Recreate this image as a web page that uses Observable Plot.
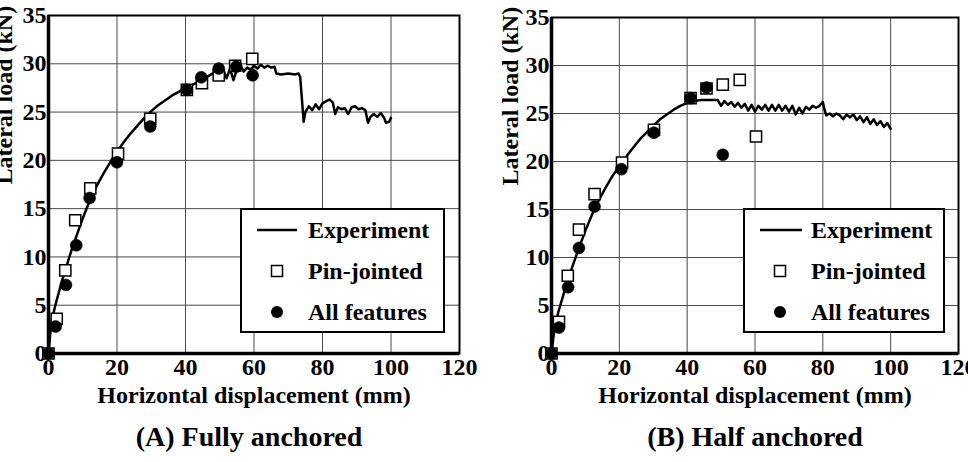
<!DOCTYPE html>
<html>
<head>
<meta charset="utf-8">
<script src="https://cdn.jsdelivr.net/npm/d3@7"></script>
<script src="https://cdn.jsdelivr.net/npm/@observablehq/plot@0.6"></script>
<style>
  html, body { margin: 0; padding: 0; background: white; width: 968px; height: 462px; overflow: hidden; position: relative; }
  .panel { position: absolute; top: 0; }
  .legend { position: absolute; top: 208px; height: 121px; border: 2px solid black; background: white;
            font-family: "Liberation Serif", "Times New Roman", serif; font-weight: bold; font-size: 24px; color: black; }
  .legend .row { position: absolute; left: 0; right: 0; height: 30px; }
  .legend .lab { position: absolute; left: 66px; top: 0; line-height: 30px; white-space: nowrap; }
  .legend .sym { position: absolute; top: 0; }
</style>
</head>
<body>
<script>
// ---------- data ----------
const xTicks = [0, 20, 40, 60, 80, 100, 120];
const yTicks = [0, 5, 10, 15, 20, 25, 30, 35];
const xTitle = "Horizontal displacement (mm)";
const yTitle = "Lateral load (kN)";
const seriesNames = ["Experiment", "Pin-jointed", "All features"];
const captions = ["(A) Fully anchored", "(B) Half anchored"];

// (A) Fully anchored
const expA_x = [0,0.5,1,2,3,4,5,6,7,8,10,12,14,16,18,20,22,24,26,28,30,32,34,36,38,40,42,44,46,48,49,50,51,52,53,54,55,56,57,58,59,60,61,62,63,64,65,66,66.5,68,70,72,73,73.5,74.5,75,76,77,78,79,80,81,82,83,83.7,84.5,85.5,86.5,87.5,88.5,89.5,90.5,91.5,92.5,93.3,94,95,96,97,98,98.5,99.5,100];
const expA_y = [0,2,3.5,5,6.3,7.6,8.7,9.9,11,12,14,15.8,17.3,18.6,19.8,20.9,21.9,22.8,23.6,24.4,25.1,25.7,26.2,26.7,27.1,27.5,27.8,28.2,28.6,29.0,29.2,29.1,29.4,28.5,29.5,28.3,29.4,29.8,29.2,29.6,29.4,29.8,29.5,29.9,29.6,29.8,29.6,29.7,29.0,28.9,29.0,28.9,29.0,28.6,24.0,25.0,25.6,25.2,25.8,25.3,25.9,26.1,26.3,26.0,24.8,25.5,25.3,25.4,24.8,25.5,25.6,25.3,25.4,25.2,23.9,24.5,24.8,24.5,24.9,24.4,23.9,24.0,24.4];
const pinA_x = [0,2.4,4.9,7.8,12.2,20.3,29.7,40.4,44.8,49.7,54.5,59.5];
const pinA_y = [0,3.6,8.6,13.8,17.1,20.7,24.3,27.3,28.0,28.8,29.8,30.5];
const allA_x = [0,2.1,5.1,8.1,12.0,20.0,29.7,40.4,44.6,49.7,54.8,59.6];
const allA_y = [0,2.8,7.1,11.2,16.1,19.8,23.5,27.3,28.6,29.5,29.7,28.8];

// (B) Half anchored
const expB_x = [0,0.5,1,2,3,4,5,6,8,10,12,14,16,18,20,22,24,26,28,30,32,34,36,38,40,42,44,46,48,49,50,51,52,53,54,55,56,57,58,59,60,61,62,63,64,65,66,67,68,69,70,71,72,73,74,75,76,77,78,79,80,80.5,81,82,83,84,85,86,87,88,89,90,91,92,93,94,95,96,97,98,99,100];
const expB_y = [0,1.5,2.8,4.3,5.5,6.7,7.8,8.9,10.9,12.8,14.5,16,17.3,18.5,19.5,20.5,21.4,22.3,23.0,23.7,24.4,24.9,25.4,25.8,26.1,26.3,26.4,26.4,26.4,26.4,25.8,26.3,25.9,26.2,25.7,26.1,25.6,26.0,25.3,25.9,25.2,25.8,25.4,25.9,25.3,25.9,25.3,25.9,25.3,25.8,25.2,25.8,24.9,25.6,25.0,25.7,25.4,25.8,25.6,25.8,26.2,25.4,24.8,25.0,24.7,25.0,24.8,24.4,24.9,24.6,24.9,24.3,24.7,24.1,24.6,23.9,24.4,23.8,24.2,23.6,24.0,23.4];
const pinB_x = [0,2.2,4.8,8.1,12.7,20.8,30.2,41.0,45.7,50.5,55.5,60.3];
const pinB_y = [0,3.3,8.1,12.9,16.6,19.9,23.3,26.6,27.6,28.0,28.5,22.6];
const allB_x = [0,2.2,4.9,8.1,12.7,20.6,30.2,41.0,45.7,50.5];
const allB_y = [0,2.7,6.9,11.0,15.3,19.2,23.0,26.6,27.7,20.7];

// ---------- drawing ----------
const font = '"Liberation Serif", "Times New Roman", serif';
function zip(xs, ys) { return xs.map((x, i) => ({x, y: ys[i]})); }

function panel(opts) {
  const exp = zip(opts.ex, opts.ey), pin = zip(opts.px, opts.py), all = zip(opts.ax, opts.ay);
  return Plot.plot({
    width: opts.width, height: 462,
    marginLeft: 67, marginRight: opts.marginRight, marginTop: opts.marginTop, marginBottom: 109,
    style: {fontFamily: font, fontSize: "24px", fontWeight: "bold", color: "black", background: "transparent", overflow: "visible"},
    x: {domain: [0, 120], ticks: xTicks, tickSize: 0, tickPadding: 4, label: null},
    y: {domain: [0, 35], ticks: yTicks, tickSize: 0, tickPadding: 2, label: null},
    marks: [
      Plot.ruleX(xTicks, {stroke: "#4a4a4a", strokeWidth: 1}),
      Plot.ruleY(yTicks, {stroke: "#4a4a4a", strokeWidth: 1}),
      Plot.frame({stroke: "black", strokeWidth: 2}),
      Plot.ruleX([0], {stroke: "black", strokeWidth: 3.5}),
      Plot.ruleY([0], {stroke: "black", strokeWidth: 3.5}),
      Plot.line(exp, {x: "x", y: "y", stroke: "black", strokeWidth: 2.5, strokeLinejoin: "round"}),
      Plot.dot(pin, {x: "x", y: "y", symbol: "square", r: 6.3, fill: "white", stroke: "black", strokeWidth: 1.5}),
      Plot.dot(all, {x: "x", y: "y", symbol: "circle", r: 6, fill: "black", stroke: "black", strokeWidth: 0.5}),
      Plot.text([xTitle], {frameAnchor: "bottom", dy: 49, fontSize: 24, fontWeight: "bold", fill: "black"}),
      Plot.text([yTitle], {frameAnchor: "left", rotate: -90, dx: opts.yDx, fontSize: 24, fontWeight: "bold", fill: "black"}),
      Plot.text([opts.caption], {frameAnchor: "bottom", dy: 92, dx: opts.capDx, fontSize: 28, fontWeight: "bold", fill: "black"})
    ]
  });
}

function legend(left, width, lineW) {
  const div = document.createElement("div");
  div.className = "legend";
  div.style.left = left + "px";
  div.style.width = width + "px";
  const syms = [
    `<svg class="sym" width="60" height="30"><line x1="15" x2="${15 + lineW}" y1="15" y2="15" stroke="black" stroke-width="2.5"/></svg>`,
    `<svg class="sym" width="60" height="30"><rect x="29.5" y="9.5" width="11" height="11" fill="white" stroke="black" stroke-width="1.5"/></svg>`,
    `<svg class="sym" width="60" height="30"><circle cx="35" cy="15" r="6" fill="black"/></svg>`
  ];
  const tops = [5, 46, 87];
  seriesNames.forEach((name, i) => {
    const row = document.createElement("div");
    row.className = "row";
    row.style.top = tops[i] + "px";
    row.innerHTML = syms[i] + `<span class="lab">${name}</span>`;
    div.appendChild(row);
  });
  return div;
}

const a = panel({width: 494, marginRight: 16, marginTop: 15, ex: expA_x, ey: expA_y, px: pinA_x, py: pinA_y, ax: allA_x, ay: allA_y, caption: captions[0], capDx: -5, yDx: -44});
a.classList.add("panel"); a.style.left = "-19px";
document.body.appendChild(a);

const b = panel({width: 484, marginRight: 10, marginTop: 17, ex: expB_x, ey: expB_y, px: pinB_x, py: pinB_y, ax: allB_x, ay: allB_y, caption: captions[1], capDx: 0, yDx: -41});
b.classList.add("panel"); b.style.left = "484px";
document.body.appendChild(b);

document.body.appendChild(legend(240, 201, 40));
document.body.appendChild(legend(743, 198, 42));
</script>
</body>
</html>
